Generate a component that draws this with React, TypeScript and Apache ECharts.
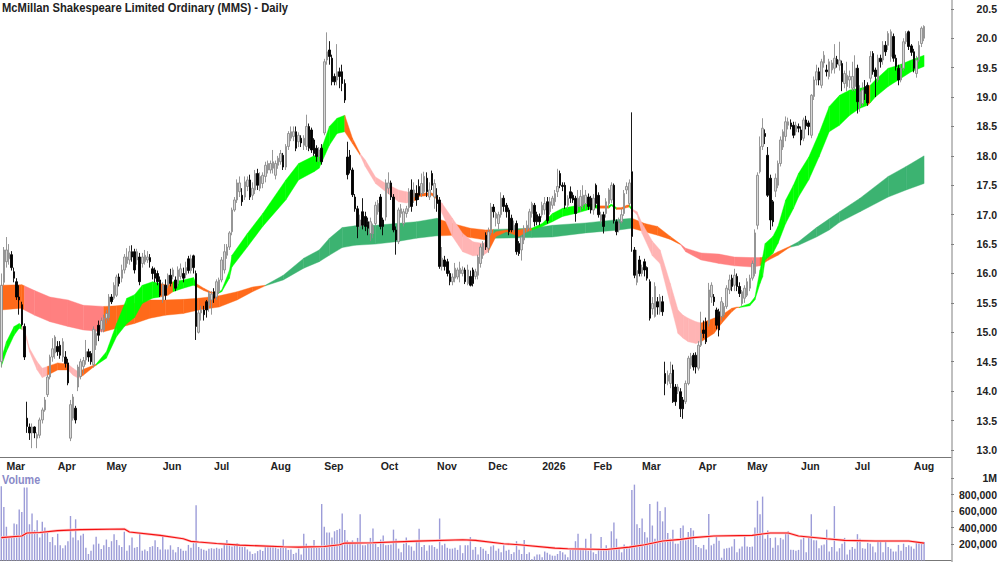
import { useEffect, useRef } from "react";
import * as echarts from "echarts";

const TITLE = "McMillan Shakespeare Limited Ordinary (MMS) - Daily";
const FONT = '"Liberation Sans", Arial, sans-serif';
const BAR_SLOTS = 371;

const monthTicks = [2, 22, 41, 63, 83, 105, 126, 148, 170, 190, 211, 231, 250, 272, 291, 312, 333, 356];
const monthNames = ["Mar", "Apr", "May", "Jun", "Jul", "Aug", "Sep", "Oct", "Nov", "Dec", "2026", "Feb", "Mar", "Apr", "May", "Jun", "Jul", "Aug"];

const priceTicks = [13, 13.5, 14, 14.5, 15, 15.5, 16, 16.5, 17, 17.5, 18, 18.5, 19, 19.5, 20, 20.5];
const volumeTicks = [200000, 400000, 600000, 800000, 1000000];

// open, close, low, high
const candles = [
  [14.5,15.8,14.4,16.0],[15.85,16.4,15.8,16.45],[16.2,16.4,16.1,16.62],[16.25,16.35,16.15,16.5],[16.32,16.1,16.05,16.38],
  [16.03,15.92,15.85,16.1],[15.86,15.6,15.55,15.92],[15.6,15.55,15.3,15.8],[15.47,15.13,15.1,15.52],[15.1,14.58,14.53,15.15],
  [13.54,13.4,13.29,13.82],[13.39,13.29,13.17,13.45],[13.29,13.39,13.03,13.45],[13.39,13.29,13.2,13.4],[13.2,13.26,13.03,13.3],
  [13.25,13.51,13.2,13.55],[13.51,13.68,13.45,13.72],[13.68,13.85,13.65,13.9],[13.94,14.24,13.9,14.28],[14.24,14.58,14.2,14.62],
  [14.58,14.72,14.5,14.9],[14.65,14.92,14.55,14.95],[14.76,14.67,14.6,14.85],[14.78,14.61,14.55,14.85],[14.58,14.84,14.5,14.9],
  [14.58,14.47,14.4,14.68],[14.48,14.14,14.1,14.55],[13.2,13.77,13.15,13.85],[13.54,13.9,13.5,13.95],[13.71,13.51,13.45,13.75],
  [14.07,14.41,14.0,14.45],[14.25,14.5,14.2,14.55],[14.42,14.52,14.3,14.58],[14.53,14.67,14.45,14.87],[14.67,14.58,14.5,14.72],
  [14.64,14.5,14.45,14.68],[14.45,15.05,14.4,15.1],[14.78,14.98,14.7,15.05],[15.12,14.95,14.85,15.2],[15.05,15.2,15.0,15.25],
  [15.04,15.24,15.0,15.3],[15.24,15.32,15.15,15.38],[15.25,15.6,15.2,15.65],[15.6,15.52,15.48,15.65],[15.58,15.8,15.55,15.85],
  [15.63,15.94,15.6,15.98],[15.94,15.83,15.78,16.0],[15.92,16.06,15.85,16.15],[16.06,16.28,16.0,16.33],[16.17,16.28,16.1,16.43],
  [16.23,16.37,16.15,16.47],[16.37,16.28,16.2,16.48],[16.37,16.06,16.0,16.42],[16.23,16.37,16.15,16.42],[16.28,15.86,15.8,16.35],
  [16.17,16.28,16.1,16.35],[16.2,16.31,16.15,16.4],[16.23,16.28,16.18,16.38],[16.27,16.2,16.1,16.33],[16.08,16.0,15.9,16.12],
  [16.06,15.92,15.85,16.1],[16.0,15.86,15.8,16.05],[15.89,15.63,15.6,15.95],[15.55,15.8,15.5,15.85],[15.8,15.63,15.55,15.9],
  [15.8,15.97,15.75,16.0],[15.97,15.83,15.78,16.08],[15.95,16.06,15.9,16.1],[15.89,15.75,15.7,15.95],[15.83,16.06,15.78,16.12],
  [15.95,16.08,15.9,16.17],[16.0,15.92,15.85,16.1],[15.98,16.1,15.92,16.2],[16.25,16.05,16.0,16.3],[16.05,16.25,16.0,16.32],
  [16.3,16.1,16.0,16.32],[16.0,15.1,14.87,16.05],[15.0,15.33,14.98,15.38],[15.33,15.38,15.2,15.45],[15.38,15.3,15.2,15.45],
  [15.52,15.38,15.25,15.55],[15.46,15.66,15.35,15.7],[15.55,15.65,15.3,15.7],[15.69,15.58,15.5,15.75],[15.6,15.86,15.55,15.9],
  [15.69,15.89,15.65,15.93],[15.89,16.23,15.85,16.28],[16.06,16.37,16.0,16.5],[16.31,16.45,16.25,16.5],[16.45,16.69,16.4,16.72],
  [16.71,17.08,16.65,17.12],[17.08,17.25,17.05,17.3],[17.25,17.54,17.2,17.6],[17.39,17.54,17.3,17.65],[17.33,17.22,17.15,17.45],
  [17.3,17.56,17.25,17.65],[17.48,17.59,17.4,17.65],[17.59,17.3,17.25,17.68],[17.33,17.45,17.25,17.55],[17.42,17.7,17.35,17.76],
  [17.7,17.5,17.42,17.78],[17.45,17.65,17.4,17.72],[17.53,17.67,17.45,17.72],[17.65,17.84,17.55,17.9],[17.76,17.87,17.7,17.92],
  [17.76,17.87,17.7,17.92],[17.79,17.9,17.7,18.1],[17.67,17.87,17.6,17.92],[17.84,17.96,17.78,18.0],[17.9,18.04,17.85,18.1],
  [18.01,17.81,17.76,18.05],[17.81,18.16,17.76,18.2],[18.16,18.38,18.1,18.42],[18.3,18.41,18.25,18.5],[18.33,18.41,18.25,18.5],
  [18.41,18.13,18.08,18.5],[18.24,18.35,18.15,18.4],[18.3,18.22,18.15,18.35],[18.18,18.3,18.1,18.35],[18.16,18.5,18.1,18.7],
  [18.5,18.13,18.08,18.55],[18.44,18.1,18.05,18.48],[18.27,18.04,18.0,18.3],[18.13,17.99,17.9,18.18],[17.99,18.1,17.9,18.15],
  [18.13,17.9,17.85,18.2],[18.39,19.6,18.35,19.65],[19.63,19.77,19.55,20.1],[19.8,19.69,19.55,19.95],[19.66,19.26,19.2,19.72],
  [19.35,19.26,19.2,19.4],[19.29,19.43,19.2,19.9],[19.43,19.35,19.15,19.5],[19.43,19.23,19.1,19.55],[19.23,18.95,18.9,19.3],
  [17.98,17.68,17.6,18.24],[18.01,17.76,17.7,18.1],[17.76,17.34,17.3,17.8],[17.3,17.1,17.05,17.35],[17.1,16.8,16.6,17.15],
  [16.8,16.91,16.75,17.0],[17.05,16.82,16.75,17.28],[16.97,16.8,16.72,17.05],[16.88,16.77,16.65,16.95],[16.68,16.88,16.55,16.95],
  [16.68,16.8,16.6,16.85],[16.85,17.16,16.8,17.22],[17.05,17.19,17.0,17.25],[17.3,16.8,16.75,17.35],[16.91,16.8,16.65,16.95],
  [16.96,17.54,16.9,17.6],[17.45,17.54,17.35,17.72],[17.54,17.3,17.25,17.58],[17.3,16.74,16.7,17.35],[16.74,16.57,16.32,16.8],
  [16.54,17.08,16.5,17.12],[17.02,17.1,16.95,17.18],[16.85,17.05,16.8,17.1],[17.02,17.1,16.95,17.15],[17.12,17.39,17.05,17.45],
  [17.42,17.14,17.05,17.6],[17.3,17.42,17.2,17.55],[17.36,17.25,17.15,17.5],[17.48,17.33,17.25,17.6],[17.36,17.53,17.3,17.7],
  [17.39,17.65,17.35,17.73],[17.62,17.39,17.3,17.72],[17.3,17.42,17.25,17.55],[17.7,17.5,17.42,17.75],[17.3,17.53,17.1,17.6],
  [17.33,17.19,17.05,17.45],[17.25,16.12,16.08,17.3],[16.12,16.26,16.05,16.45],[16.23,16.12,16.05,16.3],[16.2,16.0,15.95,16.25],
  [16.0,15.86,15.8,16.05],[15.86,15.94,15.8,16.0],[15.92,16.09,15.85,16.18],[15.94,16.06,15.9,16.1],[16.0,16.09,15.85,16.2],
  [16.0,16.06,15.95,16.12],[16.06,15.86,15.82,16.1],[15.83,16.06,15.8,16.15],[15.95,15.8,15.78,16.05],[16.06,15.83,15.78,16.1],
  [15.95,16.03,15.9,16.08],[15.97,16.28,15.9,16.32],[16.17,16.45,16.1,16.5],[16.31,16.51,16.25,16.55],[16.65,16.45,16.4,16.7],
  [16.43,16.71,16.35,16.78],[16.69,17.13,16.65,17.2],[17.13,17.05,16.95,17.18],[16.94,17.02,16.8,17.05],[16.85,17.0,16.75,17.05],
  [17.0,17.28,16.95,17.38],[17.28,17.14,17.05,17.33],[17.16,17.05,16.95,17.2],[17.08,16.71,16.65,17.12],[16.94,16.74,16.7,17.0],
  [16.74,16.82,16.7,16.9],[16.85,16.37,16.32,16.9],[16.51,16.34,16.3,16.55],[16.4,16.62,16.22,16.65],[16.57,16.77,16.5,16.82],
  [16.74,16.82,16.7,16.9],[16.77,17.05,16.72,17.1],[17.02,17.19,16.95,17.22],[17.16,16.88,16.8,17.2],[17.0,16.88,16.82,17.05],
  [16.97,16.88,16.82,17.02],[17.0,17.16,16.95,17.22],[17.08,17.19,17.0,17.3],[17.22,16.9,16.85,17.3],[17.05,17.22,17.0,17.3],
  [17.16,17.28,17.1,17.32],[17.22,17.36,17.15,17.42],[17.39,17.48,17.3,17.78],[17.7,17.5,17.45,17.75],[17.5,17.48,17.4,17.55],
  [17.5,17.16,17.1,17.55],[17.16,17.28,17.1,17.33],[17.39,17.28,17.2,17.48],[17.33,17.25,17.2,17.38],[17.28,17.02,16.88,17.32],
  [17.14,17.28,17.05,17.42],[17.14,17.31,17.05,17.42],[17.16,17.33,17.1,17.5],[17.19,17.33,17.1,17.42],[17.3,17.14,17.08,17.36],
  [17.28,17.08,17.02,17.32],[17.08,17.28,17.0,17.35],[17.5,17.19,17.12,17.53],[17.33,17.0,16.95,17.38],[16.9,17.0,16.85,17.05],
  [17.0,16.8,16.68,17.05],[17.02,17.22,16.95,17.28],[17.19,17.42,17.15,17.45],[17.25,17.5,17.2,17.55],[17.5,16.9,16.85,17.53],
  [16.88,16.71,16.65,16.92],[16.74,16.85,16.7,16.95],[16.88,17.0,16.85,17.1],[17.02,17.36,16.98,17.42],[17.42,17.48,17.35,17.55],
  [17.19,17.54,17.15,17.6],[17.73,16.63,16.37,18.74],[16.4,15.97,15.92,16.45],[15.85,16.05,15.8,16.4],[16.23,16.0,15.95,16.3],
  [16.0,16.1,15.95,16.15],[16.2,16.06,15.95,16.25],[16.1,15.92,15.88,16.12],[15.86,15.24,15.2,15.9],[15.4,15.49,15.3,15.6],
  [15.27,15.78,15.25,15.85],[15.52,15.43,15.3,15.6],[15.35,15.6,15.3,15.65],[15.52,15.35,15.28,15.62],[14.3,14.13,13.93,14.5],
  [14.17,14.27,14.1,14.35],[14.13,14.3,14.05,14.5],[14.36,13.82,13.8,14.45],[14.07,13.82,13.75,14.12],[14.0,14.07,13.95,14.12],
  [13.99,13.7,13.56,14.05],[13.85,13.7,13.53,13.9],[13.82,14.13,13.78,14.18],[14.13,14.56,14.1,14.6],[14.44,14.59,14.38,14.65],
  [14.61,14.41,14.35,14.65],[14.61,14.41,14.3,14.66],[14.39,14.78,14.35,14.85],[14.78,14.98,14.75,15.35],[15.04,14.98,14.9,15.2],
  [15.18,14.84,14.8,15.25],[15.15,15.72,15.1,15.84],[15.6,15.8,15.5,15.85],[15.6,15.52,15.45,15.65],[15.38,15.12,15.05,15.42],
  [15.35,15.04,14.93,15.4],[15.27,15.52,15.2,15.6],[15.3,15.44,15.25,15.5],[15.44,15.75,15.4,15.8],[15.72,15.89,15.65,15.98],
  [15.92,15.78,15.7,15.98],[15.8,15.97,15.7,16.08],[15.95,15.78,15.7,16.0],[15.78,15.66,15.6,15.85],[15.49,15.69,15.45,15.72],
  [15.58,15.75,15.5,15.8],[15.63,15.86,15.6,15.92],[15.75,15.92,15.7,15.98],[15.92,16.17,15.88,16.22],[16.0,16.69,15.95,16.75],
  [16.82,17.67,16.75,17.72],[17.73,18.16,17.7,18.33],[18.16,18.47,18.1,18.64],[18.38,18.33,18.2,18.45],[18.01,17.33,17.3,18.15],
  [17.62,16.91,16.74,17.68],[17.22,16.88,16.8,17.25],[17.4,17.62,17.3,17.7],[17.5,17.87,17.45,17.92],[17.87,18.27,17.82,18.33],
  [18.15,18.41,18.1,18.45],[18.33,18.58,18.25,18.67],[18.52,18.58,18.45,18.65],[18.56,18.5,18.45,18.62],[18.52,18.35,18.3,18.58],
  [18.41,18.52,18.35,18.58],[18.5,18.47,18.4,18.55],[18.44,18.27,18.18,18.5],[18.3,18.61,18.25,18.65],[18.61,18.51,18.45,18.68],
  [18.56,18.5,18.35,18.6],[18.35,19.03,18.3,19.05],[19.01,19.29,18.95,19.35],[19.29,19.43,19.2,19.55],[19.43,19.29,19.2,19.5],
  [19.2,19.6,19.15,19.65],[19.58,19.71,19.5,19.78],[19.46,19.43,19.35,19.55],[19.35,19.6,19.3,19.65],[19.46,19.58,19.4,19.63],
  [19.49,19.66,19.4,19.9],[19.64,19.56,19.5,19.7],[19.54,19.63,19.45,19.94],[19.57,19.26,19.1,19.62],[19.23,19.4,19.15,19.45],
  [19.18,19.37,19.1,19.6],[19.29,19.35,19.15,19.45],[19.15,19.35,19.1,19.6],[19.18,19.49,19.1,19.71],[19.49,18.92,18.72,19.55],
  [18.84,19.09,18.75,19.2],[18.89,19.12,18.85,19.25],[19.18,19.06,18.95,19.29],[19.2,18.9,18.85,19.25],[19.32,19.69,19.25,19.78],
  [19.74,19.43,19.38,19.78],[19.46,19.35,19.0,19.5],[19.29,19.66,19.25,19.72],[19.66,19.6,19.5,19.72],[19.63,19.88,19.55,19.95],
  [19.88,19.77,19.7,19.95],[19.88,20.08,19.8,20.12],[19.69,20.11,19.6,20.15],[20.03,19.66,19.6,20.08],[19.66,19.52,19.45,19.72],
  [19.49,19.29,19.2,19.55],[19.29,19.49,19.25,19.55],[19.49,19.94,19.45,20.0],[19.94,20.08,19.9,20.12],[20.11,19.86,19.8,20.13],
  [19.87,19.76,19.7,19.9],[19.77,19.49,19.42,19.82],[19.4,19.63,19.33,19.7],[19.63,19.88,19.6,19.95],[19.91,20.17,19.85,20.2],
  [20.0,20.2,19.95,20.22],
];

// thousands of shares
const volumes = [
  900,650,410,285,290,450,440,620,590,885,885,440,570,370,490,280,470,400,350,225,
  285,185,325,185,150,185,235,540,280,500,245,305,325,155,80,120,195,290,205,140,
  185,255,165,235,320,250,185,165,350,120,185,280,155,165,325,120,135,115,165,175,
  245,165,135,305,135,135,185,130,100,165,145,120,120,190,155,210,670,165,145,130,
  120,145,150,145,155,145,150,190,250,185,170,185,210,170,165,165,135,110,80,90,
  115,130,115,185,170,170,185,165,145,175,255,165,130,135,80,95,145,75,325,205,
  170,165,250,165,170,685,410,340,340,280,355,370,385,570,370,245,225,245,205,275,
  560,185,185,210,275,390,225,165,255,305,185,190,195,375,265,145,100,205,280,185,
  170,120,225,385,165,190,120,185,185,165,145,510,185,205,155,145,145,155,130,185,
  90,185,185,285,130,165,75,165,145,120,80,170,185,120,145,100,185,120,130,80,
  100,235,130,80,250,80,100,20,50,75,75,40,110,95,75,60,60,80,115,100,
  75,40,145,145,235,325,145,145,265,120,325,100,80,145,285,145,185,145,355,460,
  265,165,100,195,165,150,855,920,440,395,510,345,280,685,425,265,715,600,475,645,
  335,265,375,205,205,395,425,245,345,395,365,190,165,150,190,135,565,185,205,295,
  240,35,145,150,155,170,260,100,145,170,300,170,165,170,400,725,560,775,265,365,
  275,155,280,185,275,255,335,355,130,130,120,130,255,295,100,280,560,245,245,150,
  185,195,375,110,165,660,110,150,205,275,75,130,165,145,320,265,150,145,215,205,
  170,100,225,235,100,235,165,145,110,110,190,120,205,165,185,170,145,235,225,210,
  225,
];

const maDays = [0,8,10,15,22,31,48,50,62,71,74,77,84,93,110,116,126,132,134,145,162,180,185,196,202,216,221,236,245,251,258,265,270,278,293,300,307,311,322,329,341,354,360];
const maValues = [278,298,335,340,363,375,383,347,306,265,233,225,208,188,167,163,171,192,212,216,236,253,245,204,192,151,143,135,163,192,237,257,278,298,306,335,335,298,265,245,237,237,212];

// state: 0 rising, 1 mixed, 2 falling
const shortDays = [0,2,5,7,8,9,11,14,16,18,22,26,28,30,31,32,36,37,41,45,49,52,55,59,62,65,67,71,75,76,79,82,85,86,89,90,96,102,111,116,122,124,128,131,134,137,140,142,146,150,155,158,160,162,163,168,170,172,176,180,184,188,190,193,197,202,205,207,211,215,219,224,228,231,233,237,238,240,242,244,245,246,248,250,254,257,261,264,266,268,271,273,278,281,285,287,288,292,294,296,297,298,301,303,306,309,311,315,319,323,327,331,335,338,339,341,346,350,355,360];
const shortHigh = [14.55,14.84,15.1,15.15,15.12,15.05,14.73,14.5,14.39,14.42,14.48,14.46,14.39,14.33,14.34,14.37,14.44,14.46,14.67,15.15,15.58,15.64,15.8,15.86,15.83,15.8,15.86,15.89,15.93,15.83,15.75,15.68,15.69,15.72,16.05,16.31,16.68,17.02,17.59,17.87,18.0,18.01,18.5,18.64,18.69,18.3,18.04,17.93,17.64,17.53,17.42,17.39,17.37,17.36,17.37,17.37,17.28,17.19,16.94,16.68,16.54,16.51,16.6,16.71,16.74,16.74,16.77,16.77,16.85,17.02,17.11,17.15,17.18,17.18,17.15,17.15,17.18,17.12,17.12,17.16,17.17,17.1,17.05,16.85,16.55,16.4,15.83,15.38,15.29,15.24,15.18,15.16,15.24,15.29,15.41,15.43,15.43,15.49,15.6,16.06,16.28,16.51,16.63,16.8,17.25,17.5,17.7,17.98,18.38,18.84,19.03,19.12,19.15,19.18,19.2,19.29,19.49,19.54,19.63,19.71];
const shortLow = [14.42,14.67,14.95,15.07,15.05,15.02,14.67,14.36,14.23,14.27,14.36,14.36,14.27,14.22,14.24,14.27,14.41,14.44,14.56,14.93,15.15,15.25,15.49,15.58,15.6,15.63,15.69,15.75,15.8,15.78,15.71,15.66,15.67,15.69,15.92,16.11,16.45,16.8,17.25,17.59,17.73,17.79,18.18,18.38,18.41,18.21,18.01,17.82,17.53,17.39,17.22,17.2,17.22,17.25,17.31,17.33,17.26,17.02,16.63,16.37,16.3,16.31,16.37,16.63,16.71,16.63,16.71,16.74,16.8,16.88,16.97,17.02,17.07,17.11,17.11,17.11,17.15,17.09,17.09,17.12,17.13,17.08,17.0,16.68,16.3,16.17,15.49,14.98,14.9,14.84,14.81,14.84,14.98,15.15,15.35,15.42,15.42,15.45,15.55,15.83,15.94,16.23,16.34,16.51,16.85,17.1,17.3,17.59,17.98,18.41,18.52,18.69,18.81,18.86,18.9,19.0,19.18,19.29,19.43,19.52];
const shortState = [0,0,0,0,2,2,2,2,2,1,1,2,2,2,1,1,1,0,0,0,0,0,0,0,1,1,0,0,0,1,1,1,0,0,0,0,0,0,0,0,0,0,0,0,1,1,2,2,2,2,2,2,1,1,1,1,2,2,2,2,2,2,1,1,1,1,1,0,0,0,0,0,0,0,1,0,0,1,1,1,0,2,2,2,2,2,2,2,2,2,2,1,1,1,1,1,0,0,0,0,0,0,0,0,0,0,0,0,0,0,0,0,0,1,0,0,0,0,0,0];

const longDays = [0,8,9,13,19,26,32,40,45,52,58,64,71,77,85,92,98,103,110,118,124,128,133,138,146,154,162,170,171,176,183,189,192,207,215,228,241,246,251,256,261,265,267,273,280,286,293,296,299,303,307,308,311,318,323,327,335,346,353,360];
const longHigh = [15.8,15.81,15.79,15.71,15.6,15.55,15.46,15.44,15.45,15.49,15.55,15.55,15.56,15.58,15.62,15.69,15.77,15.8,15.97,16.26,16.4,16.6,16.78,16.81,16.82,16.85,16.88,16.94,16.92,16.85,16.77,16.74,16.75,16.77,16.82,16.86,16.92,16.94,16.85,16.8,16.63,16.5,16.43,16.35,16.33,16.28,16.27,16.27,16.28,16.37,16.45,16.47,16.54,16.78,16.93,17.05,17.28,17.65,17.82,18.0];
const longLow = [15.38,15.41,15.38,15.29,15.18,15.1,15.04,15.01,15.07,15.15,15.24,15.29,15.32,15.38,15.43,15.55,15.69,15.79,15.89,16.09,16.2,16.31,16.44,16.48,16.5,16.54,16.6,16.64,16.64,16.65,16.61,16.57,16.6,16.61,16.62,16.69,16.74,16.77,16.71,16.65,16.58,16.49,16.37,16.23,16.17,16.13,16.11,16.13,16.22,16.31,16.43,16.45,16.48,16.62,16.74,16.87,17.05,17.3,17.42,17.53];
const longState = [1,1,2,2,2,2,2,1,1,1,1,1,1,1,1,1,1,0,0,0,0,0,0,0,0,0,0,0,1,1,1,1,0,0,0,0,0,1,1,1,1,2,2,2,2,2,2,1,1,1,1,0,0,0,0,0,0,0,0,0];

const shortColors = ["#00ff00", "#ff6a1a", "#ffb4b4"];
const longColors = ["#3cb371", "#ff6a1a", "#ff8080"];

function ribbonRows(days: number[], high: number[], low: number[], state: number[]) {
  return days.slice(0, -1).map((d, i) => [d, high[i], low[i], days[i + 1], high[i + 1], low[i + 1], state[i]]);
}

function ribbonSeries(rows: number[][], colors: string[], z: number) {
  return {
    type: "custom",
    xAxisIndex: 0,
    yAxisIndex: 0,
    z,
    silent: true,
    clip: true,
    encode: { x: [0, 3], y: [1, 2, 4, 5] },
    data: rows,
    renderItem: (_: any, api: any) => {
      const a = api.coord([api.value(0), api.value(1)]);
      const b = api.coord([api.value(3), api.value(4)]);
      const c = api.coord([api.value(3), api.value(5)]);
      const d = api.coord([api.value(0), api.value(2)]);
      const color = colors[api.value(6)];
      return {
        type: "polygon",
        shape: { points: [a, b, c, d] },
        style: { fill: color, stroke: color, lineWidth: 0.4 },
      };
    },
  };
}

export default function App() {
  const chartRef = useRef<HTMLDivElement | null>(null);

  useEffect(() => {
    if (!chartRef.current) return;
    document.body.style.margin = "0";
    const chart = echarts.init(chartRef.current, undefined, { renderer: "svg" });

    const categories = Array.from({ length: BAR_SLOTS }, (_, i) => String(i));
    const isMonthStart = (index: number) => monthTicks.includes(index);
    const maData = maDays.map((d, i) => [d, maValues[i] * 1000]);

    chart.setOption({
      animation: false,
      backgroundColor: "#ffffff",
      graphic: [
        {
          type: "line",
          shape: { x1: 952, y1: 0, x2: 952, y2: 562 },
          style: { stroke: "#808080", lineWidth: 1 },
          silent: true,
        },
        {
          type: "text",
          x: 2,
          y: 1,
          scaleX: 0.935,
          silent: true,
          style: { text: TITLE, fontFamily: FONT, fontSize: 12, fontWeight: "bold", fill: "#222222" },
        },
        {
          type: "text",
          x: 2,
          y: 474,
          scaleX: 0.9,
          silent: true,
          style: { text: "Volume", fontFamily: FONT, fontSize: 12, fontWeight: "bold", fill: "#8a8ac8" },
        },
      ],
      grid: [
        { left: 0, top: 0, width: 952, height: 457 },
        { left: 0, top: 472, width: 952, height: 88.6 },
      ],
      xAxis: [
        {
          type: "category",
          gridIndex: 0,
          data: categories,
          boundaryGap: true,
          axisLine: { lineStyle: { color: "#777777", width: 1 } },
          axisTick: { alignWithLabel: true, length: 3, interval: isMonthStart, lineStyle: { color: "#777777" } },
          axisLabel: {
            interval: isMonthStart,
            formatter: (v: string) => monthNames[monthTicks.indexOf(Number(v))] ?? "",
            align: "left",
            margin: 3,
            fontFamily: FONT,
            fontSize: 10.5,
            fontWeight: "bold",
            color: "#222222",
          },
          splitLine: { show: false },
        },
        {
          type: "category",
          gridIndex: 1,
          position: "top",
          data: categories,
          boundaryGap: true,
          axisLine: { lineStyle: { color: "#777777", width: 1 } },
          axisTick: { show: false },
          axisLabel: { show: false },
          splitLine: { show: false },
        },
      ],
      yAxis: [
        {
          type: "value",
          gridIndex: 0,
          position: "right",
          min: 12.88,
          max: 20.65,
          axisLine: { show: false },
          axisTick: { show: true, length: 3, customValues: priceTicks, lineStyle: { color: "#808080" } },
          axisLabel: {
            customValues: priceTicks,
            formatter: (v: number) => v.toFixed(1),
            align: "right",
            margin: 46,
            fontFamily: FONT,
            fontSize: 10.5,
            fontWeight: "bold",
            color: "#222222",
          },
          splitLine: { show: false },
        },
        {
          type: "value",
          gridIndex: 1,
          position: "right",
          min: 0,
          max: 1073000,
          axisLine: { show: false },
          axisTick: { show: true, length: 3, customValues: volumeTicks, lineStyle: { color: "#808080" } },
          axisLabel: {
            customValues: volumeTicks,
            formatter: (v: number) => (v >= 1000000 ? "1M" : v.toLocaleString("en-US")),
            align: "right",
            margin: 46,
            fontFamily: FONT,
            fontSize: 10.5,
            fontWeight: "bold",
            color: "#222222",
          },
          splitLine: { show: false },
        },
      ],
      series: [
        ribbonSeries(ribbonRows(longDays, longHigh, longLow, longState), longColors, 1),
        ribbonSeries(ribbonRows(shortDays, shortHigh, shortLow, shortState), shortColors, 2),
        {
          type: "candlestick",
          xAxisIndex: 0,
          yAxisIndex: 0,
          z: 3,
          barWidth: 2,
          silent: true,
          data: candles,
          itemStyle: {
            color: "#d8d8d8",
            color0: "#000000",
            borderColor: "#8c8c8c",
            borderColor0: "#000000",
            borderWidth: 0.9,
          },
        },
        {
          type: "bar",
          xAxisIndex: 1,
          yAxisIndex: 1,
          barWidth: 1.4,
          silent: true,
          data: volumes.map((v) => v * 1000),
          itemStyle: { color: "#9c9cd8" },
        },
        {
          type: "line",
          xAxisIndex: 1,
          yAxisIndex: 1,
          z: 3,
          silent: true,
          showSymbol: false,
          data: maData,
          lineStyle: { color: "#ffc4c4", width: 2.6 },
        },
        {
          type: "line",
          xAxisIndex: 1,
          yAxisIndex: 1,
          z: 4,
          silent: true,
          showSymbol: false,
          data: maData,
          lineStyle: { color: "#f41010", width: 1.1 },
        },
      ],
    });

    return () => {
      chart.dispose();
    };
  }, []);

  return <div ref={chartRef} style={{ width: 1000, height: 562 }} />;
}
